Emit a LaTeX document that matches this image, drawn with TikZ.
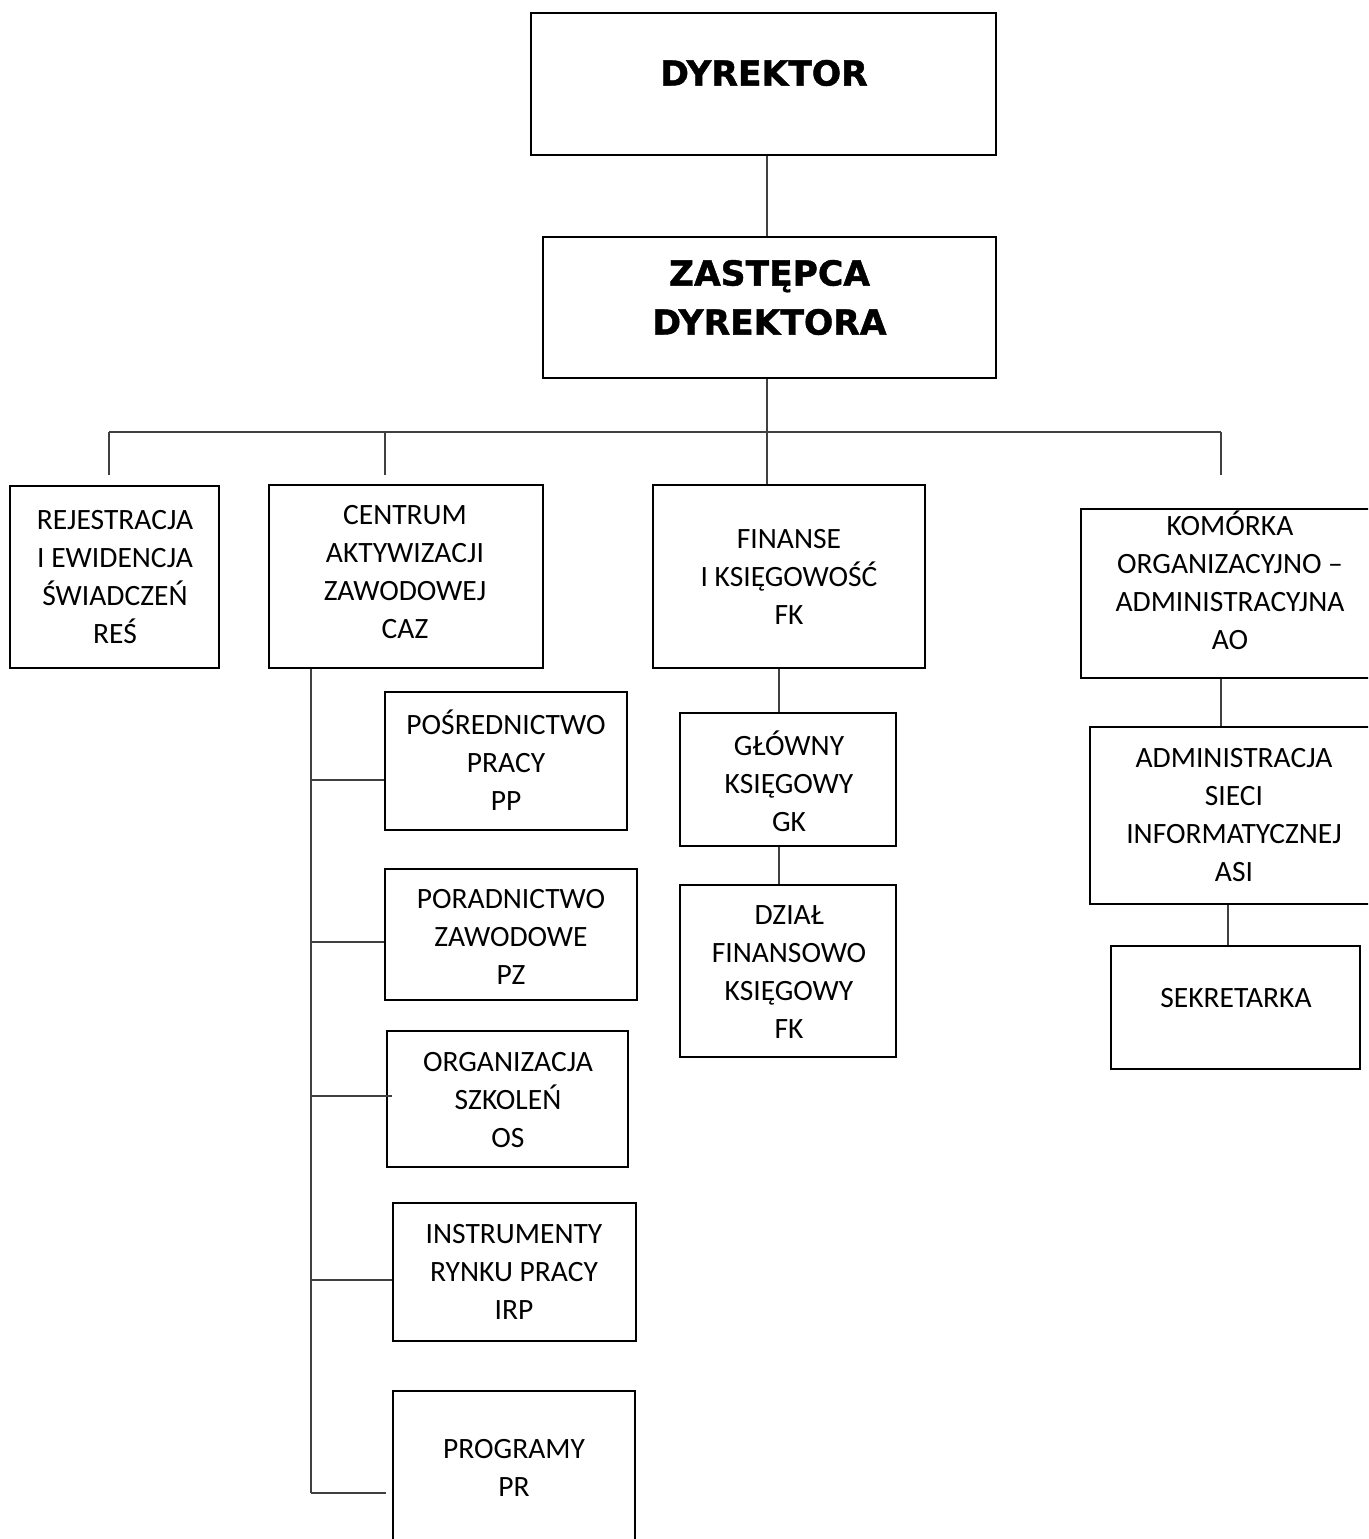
\documentclass[tikz,border=0pt]{standalone}
\usepackage{fontspec}
\setmainfont{Carlito}
\newfontfamily\headfont{DejaVu Sans}[BoldFeatures={FakeBold=1.2}]
\usepackage{tikz}
\usetikzlibrary{positioning}

\begin{document}
\begin{tikzpicture}[x=1pt,y=-1pt,
    unit/.style={draw,line width=2.6pt,inner sep=0pt},
    txt/.style={align=center,font=\fontsize{29.5}{38}\selectfont},
    head/.style={align=center,font=\headfont\bfseries\fontsize{34.5}{49}\selectfont},
    link/.style={draw=black!75,line width=1.4pt}]
  \useasboundingbox (0,0) rectangle (1368,1539);
  \clip (0,0) rectangle (1368,1539);

  % management
  \node[unit,minimum width=465pt,minimum height=142pt] (dyr) at (763.5,84) {};
  \node[head] (dyr-t) at (764,73) {DYREKTOR};
  \node[unit,minimum width=453pt,minimum height=141pt] (zast) at (769.5,307.5) {};
  \node[head] (zast-t) at (769.5,297.5) {ZASTĘPCA\\DYREKTORA};

  % departments
  \node[unit,minimum width=209pt,minimum height=182pt] (res) at (114.5,577) {};
  \node[txt] (res-t) at (115,577) {REJESTRACJA\\I EWIDENCJA\\ŚWIADCZEŃ\\REŚ};
  \node[unit,minimum width=274pt,minimum height=183pt] (caz) at (406,576.5) {};
  \node[txt] (caz-t) at (405,572) {CENTRUM\\AKTYWIZACJI\\ZAWODOWEJ\\CAZ};
  \node[unit,minimum width=272pt,minimum height=183pt] (fk) at (789,576.5) {};
  \node[txt] (fk-t) at (789,576.5) {FINANSE\\I KSIĘGOWOŚĆ\\FK};
  \node[unit,minimum width=289pt,minimum height=169pt] (ao) at (1225.5,593.5) {};
  \node[txt] (ao-t) at (1230,580) {KOMÓRKA\\ORGANIZACYJNO –\\ADMINISTRACYJNA\\AO};

  % CAZ sections
  \node[unit,minimum width=242pt,minimum height=138pt] (pp) at (506,761) {};
  \node[txt] (pp-t) at (506,760) {POŚREDNICTWO\\PRACY\\PP};
  \node[unit,minimum width=252pt,minimum height=131pt] (pz) at (511,934.5) {};
  \node[txt] (pz-t) at (511,937) {PORADNICTWO\\ZAWODOWE\\PZ};
  \node[unit,minimum width=241pt,minimum height=136pt] (os) at (507.5,1099) {};
  \node[txt] (os-t) at (508,1100) {ORGANIZACJA\\SZKOLEŃ\\OS};
  \node[unit,minimum width=243pt,minimum height=138pt] (irp) at (514.5,1272) {};
  \node[txt] (irp-t) at (514,1272) {INSTRUMENTY\\RYNKU PRACY\\IRP};
  \node[unit,minimum width=242pt,minimum height=189pt] (pr) at (514,1485.5) {};
  \node[txt] (pr-t) at (514,1467.5) {PROGRAMY\\PR};

  % FK sections
  \node[unit,minimum width=216pt,minimum height=133pt] (gk) at (788,779.5) {};
  \node[txt] (gk-t) at (789,781) {GŁÓWNY\\KSIĘGOWY\\GK};
  \node[unit,minimum width=216pt,minimum height=172pt] (dfk) at (788,971) {};
  \node[txt] (dfk-t) at (789,972.5) {DZIAŁ\\FINANSOWO\\KSIĘGOWY\\FK};

  % AO sections
  \node[unit,minimum width=280pt,minimum height=177pt] (asi) at (1230,815.5) {};
  \node[txt] (asi-t) at (1234,815.5) {ADMINISTRACJA\\SIECI\\INFORMATYCZNEJ\\ASI};
  \node[unit,minimum width=249pt,minimum height=123pt] (sek) at (1235.5,1007.5) {};
  \node[txt] (sek-t) at (1236,998) {SEKRETARKA};

  % connectors
  \coordinate (mid) at (767,0);
  \coordinate (busL) at (109,432);
  \coordinate (busC) at (385,432);
  \coordinate (busR) at (1221,432);
  \coordinate (fkx) at (779,0);
  \coordinate (aox) at (1221,0);
  \coordinate (asix) at (1228,0);
  \coordinate (cazx) at (311,1493);
  \foreach \n/\y in {pp/780,pz/942,os/1096,irp/1280,pr/1493}
    \coordinate (\n-b) at (311,\y);

  \draw[link] (dyr.south -| mid) -- (zast.north -| mid);
  \draw[link] (zast.south -| mid) -- (fk.north -| mid);
  \draw[link] (busL) -- (busR);
  \foreach \c in {busL,busC,busR}
    \draw[link] (\c) -- ++(0,43);

  \draw[link] (caz.south -| cazx) -- (cazx);
  \foreach \n in {pp,pz,irp}
    \draw[link] (\n-b) -- (\n-b -| \n.west);
  \draw[link,shorten >=-6pt] (os-b) -- (os-b -| os.west);
  \draw[link,shorten >=6pt] (pr-b) -- (pr-b -| pr.west);

  \draw[link] (fk.south -| fkx) -- (gk.north -| fkx);
  \draw[link] (gk.south -| fkx) -- (dfk.north -| fkx);
  \draw[link] (ao.south -| aox) -- (asi.north -| aox);
  \draw[link] (asi.south -| asix) -- (sek.north -| asix);
\end{tikzpicture}
\end{document}
